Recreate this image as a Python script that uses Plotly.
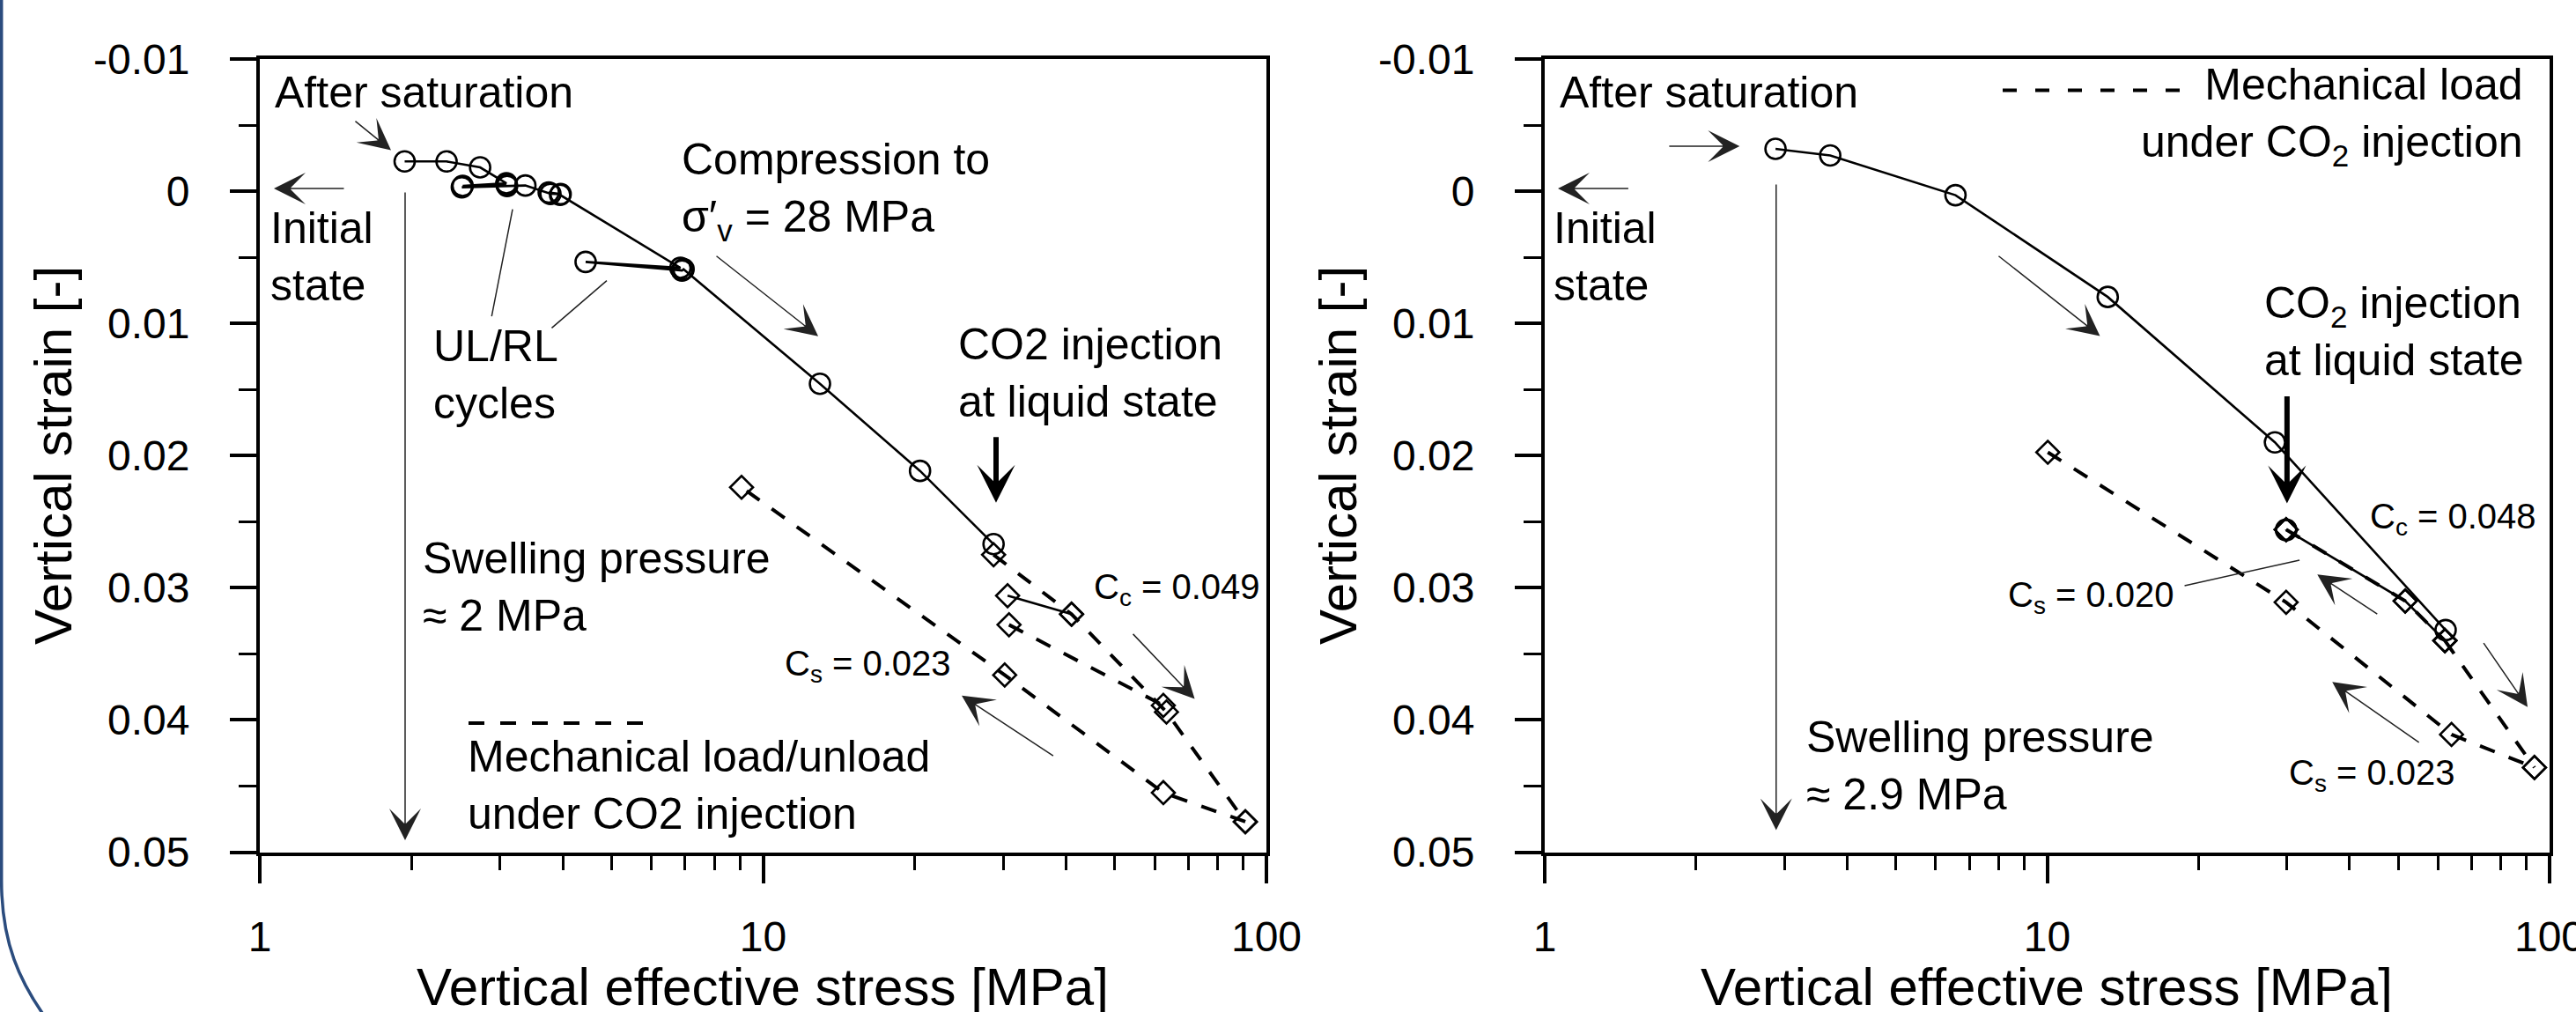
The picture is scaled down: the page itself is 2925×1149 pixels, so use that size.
import math
import plotly.graph_objects as go

W, H = 2925, 1149
FONT = "Liberation Sans, Arial, Helvetica, sans-serif"

# ---------------- data (stress in MPa, vertical strain [-]) ----------------
# Left panel
left_main_x = [1.94, 2.35, 2.74, 3.09, 2.53, 3.09, 2.52, 3.10, 3.37, 3.78, 3.96, 3.75, 3.95,
               6.85, 4.44, 6.90, 6.95, 12.97, 20.5, 28.7]
left_main_y = [-0.00225, -0.00225, -0.0018, -0.0006, -0.0004, -0.0005, -0.0003, -0.0004, -0.00043,
               0.0002, 0.00022, 0.0001, 0.00028, 0.0058, 0.00535, 0.0060, 0.0059, 0.01457, 0.02116, 0.0267]
left_load_x = [28.7, 41.0, 63.3, 90.8]
left_load_y = [0.0275, 0.0320, 0.0394, 0.0477]
left_solid_x = [30.6, 41.0]
left_solid_y = [0.0306, 0.0320]
left_reload_x = [30.8, 62.4]
left_reload_y = [0.0328, 0.0389]
left_unload_x = [90.8, 62.4, 30.2, 9.06]
left_unload_y = [0.0477, 0.0455, 0.0366, 0.0224]

# Right panel
right_main_x = [2.88, 3.70, 6.57, 13.2, 28.4, 62.1]
right_main_y = [-0.0032, -0.0027, 0.0003, 0.0080, 0.0190, 0.0332]
right_co2_x = [29.9, 51.6, 61.9]
right_co2_y = [0.0256, 0.0310, 0.0340]
right_co2pt_x = [29.9, 29.9]
right_co2pt_y = [0.0256, 0.02565]
right_unload_x = [10.03, 29.9, 63.8, 93.3]
right_unload_y = [0.01975, 0.0311, 0.0411, 0.0436]
right_load_x = [61.9, 93.3]
right_load_y = [0.0340, 0.0436]

y_tickvals = [-0.01, 0, 0.01, 0.02, 0.03, 0.04, 0.05]
y_ticktext = ["-0.01", "0", "0.01", "0.02", "0.03", "0.04", "0.05"]
y_minor = [-0.005, 0.005, 0.015, 0.025, 0.035, 0.045]
x_tickvals = [1, 10, 100]
x_ticktext = ["1", "10", "100"]
x_minor = [2, 3, 4, 5, 6, 7, 8, 9, 20, 30, 40, 50, 60, 70, 80, 90]

# ---------------- figure ----------------
fig = go.Figure()


def series(x, y, xa, ya, dash, symbol, lw=2.5, msize=20):
    fig.add_trace(go.Scatter(
        x=x, y=y, xaxis=xa, yaxis=ya, mode="lines+markers",
        line=dict(color="black", width=lw, dash=dash),
        marker=dict(symbol=symbol, size=msize, color="black", line=dict(color="black", width=2.6)),
        showlegend=False, hoverinfo="skip"))


DASH = "18px,17px"
DM = 20   # diamond size
CM = 23   # circle size
# left
series(left_load_x, left_load_y, "x", "y", DASH, "diamond-open", lw=4, msize=DM)
series(left_reload_x, left_reload_y, "x", "y", DASH, "diamond-open", lw=4, msize=DM)
series(left_unload_x, left_unload_y, "x", "y", DASH, "diamond-open", lw=4, msize=DM)
series(left_solid_x, left_solid_y, "x", "y", "solid", "diamond-open", lw=2.6, msize=DM)
series(left_main_x, left_main_y, "x", "y", "solid", "circle-open", lw=2.6, msize=CM)
# right
series(right_unload_x, right_unload_y, "x2", "y2", DASH, "diamond-open", lw=4, msize=DM)
series(right_load_x, right_load_y, "x2", "y2", DASH, "diamond-open", lw=4, msize=DM)
series(right_co2_x, right_co2_y, "x2", "y2", DASH, "diamond-open", lw=4, msize=DM)
series(right_co2_x, right_co2_y, "x2", "y2", "solid", "diamond-open", lw=2.6, msize=DM)
series(right_main_x, right_main_y, "x2", "y2", "solid", "circle-open", lw=2.6, msize=CM)
series(right_co2pt_x, right_co2pt_y, "x2", "y2", "solid", "circle-open", lw=2.6, msize=CM)


def xaxis_cfg(domain, anchor):
    return dict(domain=domain, anchor=anchor, type="log", range=[0, 2], autorange=False,
                automargin=False, ticklabeloverflow="allow",
                tickmode="array", tickvals=x_tickvals, ticktext=x_ticktext,
                ticks="outside", ticklen=31, tickwidth=4, tickcolor="black",
                showline=True, linewidth=4, linecolor="black", mirror=True,
                showgrid=False, zeroline=False, ticklabelstandoff=20,
                tickfont=dict(family=FONT, size=48, color="black"),
                minor=dict(tickmode="array", tickvals=x_minor, ticks="outside",
                           ticklen=16, tickwidth=3, tickcolor="black", showgrid=False))


def yaxis_cfg(domain, anchor):
    return dict(domain=domain, anchor=anchor, range=[0.05, -0.01], autorange=False,
                automargin=False, ticklabeloverflow="allow",
                tickmode="array", tickvals=y_tickvals, ticktext=y_ticktext,
                ticks="outside", ticklen=30, tickwidth=4, tickcolor="black",
                showline=True, linewidth=4, linecolor="black", mirror=True,
                showgrid=False, zeroline=False, ticklabelstandoff=36,
                tickfont=dict(family=FONT, size=48, color="black"),
                minor=dict(tickmode="array", tickvals=y_minor, ticks="outside",
                           ticklen=20, tickwidth=3, tickcolor="black", showgrid=False))


YDOM = [1 - 967.5 / H, 1 - 67 / H]
fig.update_layout(
    width=W, height=H, margin=dict(l=0, r=0, t=0, b=0, autoexpand=False),
    paper_bgcolor="white", plot_bgcolor="white", showlegend=False,
    font=dict(family=FONT, color="black"),
    xaxis=xaxis_cfg([295 / W, 1438 / W], "y"),
    yaxis=yaxis_cfg(YDOM, "x"),
    xaxis2=xaxis_cfg([1754 / W, 2895 / W], "y2"),
    yaxis2=yaxis_cfg(YDOM, "x2"),
)


def P(px, py):
    return px / W, 1 - py / H


def txt(text, x, y, xr, yr, size=50, xanchor="left", yanchor="middle", align="left", angle=0):
    fig.add_annotation(text=text, x=x, y=y, xref=xr, yref=yr, showarrow=False,
                       xanchor=xanchor, yanchor=yanchor, align=align, textangle=angle,
                       font=dict(family=FONT, size=size, color="black"))


def arrow(x, y, ax, ay, xr, yr, head=3, width=1.5, size=4.0, color="#222"):
    # x / ax are log10(stress) on the log axes
    fig.add_annotation(text="", x=x, y=y, ax=ax, ay=ay, xref=xr, yref=yr, axref=xr, ayref=yr,
                       showarrow=True, arrowhead=head, arrowwidth=width, arrowsize=size,
                       arrowcolor=color, standoff=0, startstandoff=0)


# axis titles
for cx in (60, 1519):
    x, y = P(cx, 517)
    txt("Vertical strain [-]", x, y, "paper", "paper", size=60, xanchor="center", angle=-90)
for cx in (866, 2324):
    x, y = P(cx, 1120)
    txt("Vertical effective stress [MPa]", x, y, "paper", "paper", size=60, xanchor="center")

# ---- left panel annotations ----
txt("After saturation", 0.0262, -0.00746, "x", "y")
arrow(0.2607, -0.0031, 0.1872, -0.00537, "x", "y")
txt("Initial<br>state", 0.0175, 0.00497, "x", "y")
arrow(0.028, -0.0002, 0.1697, -0.0002, "x", "y")
arrow(0.2887, 0.0491, 0.2887, 0.0, "x", "y")
txt("Swelling pressure<br>≈ 2 MPa", 0.3202, 0.02994, "x", "y")
txt("Compression to<br>σ′<sub>v</sub> = 28 MPa", 0.8346, 0.0, "x", "y")
arrow(1.1094, 0.01097, 0.9047, 0.00483, "x", "y")
txt("UL/RL<br>cycles", 0.3412, 0.0139, "x", "y")
arrow(0.5022, 0.00137, 0.4602, 0.00957, "x", "y", head=0)
arrow(0.6894, 0.00677, 0.5774, 0.01043, "x", "y", head=0)
txt("CO2 injection<br>at liquid state", 1.3841, 0.01377, "x", "y")
arrow(1.4628, 0.02357, 1.4628, 0.0185, "x", "y", width=6, size=1.2, color="black")
txt("C<sub>c</sub> = 0.049", 1.6535, 0.0301, "x", "y", size=40)
arrow(1.8575, 0.0384, 1.7325, 0.0334, "x", "y")
txt("C<sub>s</sub> = 0.023", 1.0394, 0.0359, "x", "y", size=40)
arrow(1.3946, 0.03815, 1.579, 0.04277, "x", "y")
x, y = P(529, 891)
txt("Mechanical load/unload<br>under CO2 injection", x, y, "paper", "paper")
x0, y0 = P(532, 821)
x1, _ = P(740, 821)
fig.add_shape(type="line", xref="paper", yref="paper", x0=x0, x1=x1, y0=y0, y1=y0,
              line=dict(color="black", width=4, dash="18px,18px"))

# ---- right panel annotations ----
txt("After saturation", 0.0263, -0.00746, "x2", "y2")
arrow(0.3879, -0.00341, 0.2452, -0.00341, "x2", "y2")
txt("Initial<br>state", 0.014, 0.00497, "x2", "y2")
arrow(0.0263, -0.0002, 0.169, -0.0002, "x2", "y2")
arrow(0.4606, 0.04833, 0.4606, -0.0006, "x2", "y2")
txt("Swelling pressure<br>≈ 2.9 MPa", 0.5175, 0.0435, "x2", "y2")
arrow(1.1051, 0.01095, 0.9009, 0.00483, "x2", "y2")
x, y = P(2867, 132.4)
txt("Mechanical load<br>under CO<sub>2</sub> injection", x, y, "paper", "paper",
    xanchor="right", align="right")
x0, y0 = P(2274, 102.6)
x1, _ = P(2480, 102.6)
fig.add_shape(type="line", xref="paper", yref="paper", x0=x0, x1=x1, y0=y0, y1=y0,
              line=dict(color="black", width=4, dash="16px,21px"))
txt("CO<sub>2</sub> injection<br>at liquid state", 1.4291, 0.01059, "x2", "y2")
arrow(1.4774, 0.02362, 1.4774, 0.01542, "x2", "y2", width=6, size=1.2, color="black")
txt("C<sub>c</sub> = 0.048", 1.6392, 0.02477, "x2", "y2", size=40)
arrow(1.9562, 0.03903, 1.8669, 0.03408, "x2", "y2")
txt("C<sub>s</sub> = 0.020", 0.9187, 0.0307, "x2", "y2", size=40)
arrow(1.5023, 0.02791, 1.2709, 0.02987, "x2", "y2", head=0)
arrow(1.5377, 0.0290, 1.6596, 0.03205, "x2", "y2")
txt("C<sub>s</sub> = 0.023", 1.4774, 0.0442, "x2", "y2", size=40)
arrow(1.5674, 0.03713, 1.7426, 0.04176, "x2", "y2")

# decorative rounded frame edge at the left
pts = [(1.7, -10), (1.7, 1000), (1.7, 1070), (22, 1115), (55, 1160)]
pp = [P(a, b) for a, b in pts]
path = "M {0},{1} L {2},{3} C {4},{5} {6},{7} {8},{9}".format(
    pp[0][0], pp[0][1], pp[1][0], pp[1][1], pp[2][0], pp[2][1], pp[3][0], pp[3][1], pp[4][0], pp[4][1])
fig.add_shape(type="path", path=path, xref="paper", yref="paper",
              line=dict(color="#2b4c7e", width=3.5))

fig.write_html("out.html", config={"displayModeBar": False},
               post_script="document.body.style.margin='0px';document.body.style.overflow='hidden';")
